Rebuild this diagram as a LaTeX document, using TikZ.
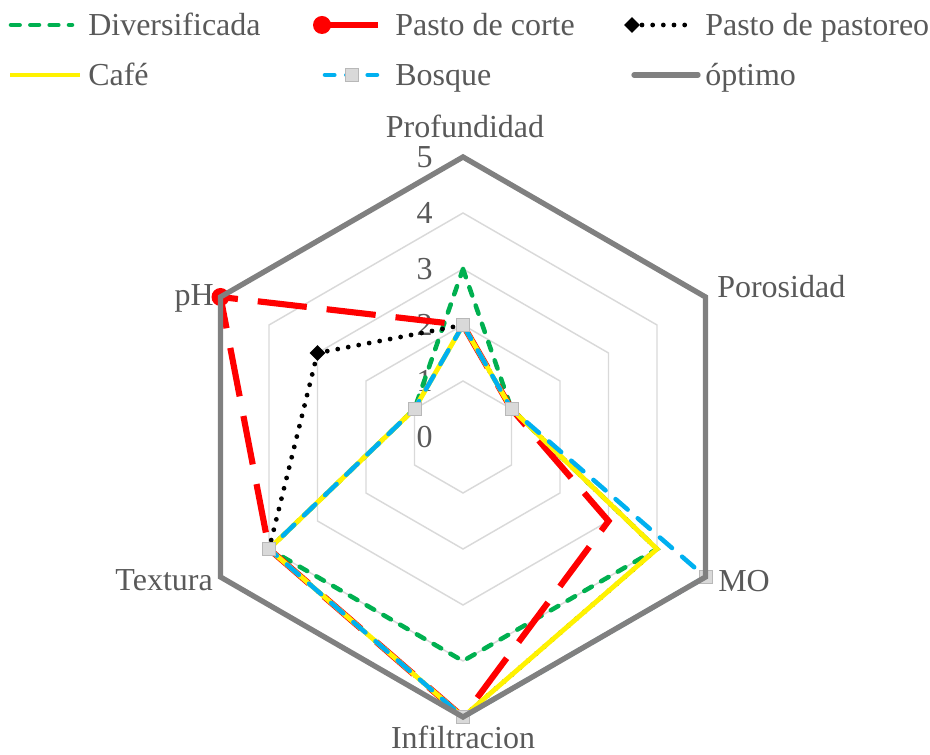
\documentclass[tikz,border=0pt]{standalone}
\usepackage{fontspec}
\setmainfont{Liberation Serif}
\usetikzlibrary{shapes.geometric}
\definecolor{txtgrey}{HTML}{595959}
\definecolor{gridgrey}{HTML}{D9D9D9}
\definecolor{optgrey}{HTML}{808080}
\definecolor{divgreen}{HTML}{00B050}
\definecolor{bosqblue}{HTML}{00B0F0}

\begin{document}
\begin{tikzpicture}[x=0.75pt, y=0.75pt, font=\fontsize{24}{28}\selectfont]
	\tikzstyle{lbl} = [text=txtgrey, inner sep=0pt]
	\tikzstyle{grid} = [draw=gridgrey, line width=1.1pt]
	\tikzstyle{diver} = [draw=divgreen, line width=3.4pt, line cap=round, dash pattern=on 6.5pt off 8pt]
	\tikzstyle{corte} = [draw=red, line width=4.6pt, dash pattern=on 37pt off 15pt]
	\tikzstyle{pastoreo} = [draw=black, line width=3.6pt, line cap=round, dash pattern=on 0pt off 8pt]
	\tikzstyle{cafe} = [draw=yellow, line width=3.6pt, line join=miter]
	\tikzstyle{bosque} = [draw=bosqblue, line width=3.4pt, line cap=round, dash pattern=on 12pt off 10pt]
	\tikzstyle{optimo} = [draw=optgrey, line width=4pt, line join=miter]
	\tikzstyle{sq} = [rectangle, fill=gridgrey, draw=gridgrey!85!black, line width=0.4pt, minimum size=10pt, inner sep=0pt]
	\tikzstyle{dot} = [circle, fill=red, minimum size=13.5pt, inner sep=0pt]
	\tikzstyle{dia} = [diamond, fill=black, minimum size=12pt, inner sep=0pt]
	\useasboundingbox (0,0) rectangle (930,755);

	% legend
	\draw[diver] (11,730) -- (72,730);
	\node (legDiver) [lbl, anchor=base west] at (88,719) {Diversificada};
	\draw[corte, dash pattern=] (322,730) -- (378,730);
	\node (legCorteDot) [dot] at (322,730) {};
	\node (legCorte) [lbl, anchor=base west] at (395,719) {Pasto de corte};
	\draw[pastoreo] (642,730) -- (692,730);
	\node (legPastDia) [dia] at (632,730) {};
	\node (legPast) [lbl, anchor=base west] at (705,719) {Pasto de pastoreo};
	\draw[cafe] (10,680) -- (80,680);
	\node (legCafe) [lbl, anchor=base west] at (88,669) {Café};
	\draw[bosque, dash pattern=on 7pt off 9pt] (325,680) -- (380,680);
	\node (legBosqSq) [sq] at (352,680) {};
	\node (legBosq) [lbl, anchor=base west] at (395,669) {Bosque};
	\draw[optimo, line cap=round] (634,680) -- (698,680);
	\node (legOpt) [lbl, anchor=base west] at (705,669) {óptimo};

	\begin{scope}[shift={(463,318)}]
	% rings
	\foreach \r in {1,...,4}
		\draw[grid] (90:\r*56) -- (30:\r*56) -- (-30:\r*56) -- (-90:\r*56) -- (210:\r*56) -- (150:\r*56) -- cycle;
	\foreach \k in {0,...,5}
		\node (tick\k) [lbl, anchor=east] at (-30,\k*56) {\k};

	% series
	\draw[diver] (90:3*56) -- (30:1*56) -- (-30:4*56) -- (-90:4*56) -- (210:4*56) -- (150:1*56) -- cycle;
	\draw[corte] (90:2*56) -- (30:1*56) -- (-30:3*56) -- (-90:5*56) -- (210:4*56) -- (150:5*56) -- cycle;
	\node (corteDot) [dot] at (150:5*56) {};
	\draw[pastoreo] (90:2*56) -- (30:1*56) -- (-30:4*56) -- (-90:5*56) -- (210:4*56) -- (150:3*56) -- cycle;
	\node (pastDia) [dia] at (150:3*56) {};
	\draw[cafe] (90:2*56) -- (30:1*56) -- (-30:4*56) -- (-90:5*56) -- (210:4*56) -- (150:1*56) -- cycle;
	\draw[bosque] (90:2*56) -- (30:1*56) -- (-30:5*56) -- (-90:5*56) -- (210:4*56) -- (150:1*56) -- cycle;
	\foreach \a/\v [count=\i] in {90/2, 30/1, -30/5, -90/5, 210/4, 150/1}
		\node (bosq\i) [sq] at (\a:\v*56) {};
	\draw[optimo] (90:280) -- (30:280) -- (-30:280) -- (-90:280) -- (210:280) -- (150:280) -- cycle;

	% axis names
	\node (profundidad) [lbl, anchor=base] at (2,299) {Profundidad};
	\node (porosidad) [lbl, anchor=base west] at (254,139) {Porosidad};
	\node (mo) [lbl, anchor=base west] at (255,-155) {MO};
	\node (infiltracion) [lbl, anchor=base] at (0,-312) {Infiltracion};
	\node (textura) [lbl, anchor=base east] at (-250,-154) {Textura};
	\node (ph) [lbl, anchor=base east] at (-249,131) {pH};
	\end{scope}
\end{tikzpicture}
\end{document}
